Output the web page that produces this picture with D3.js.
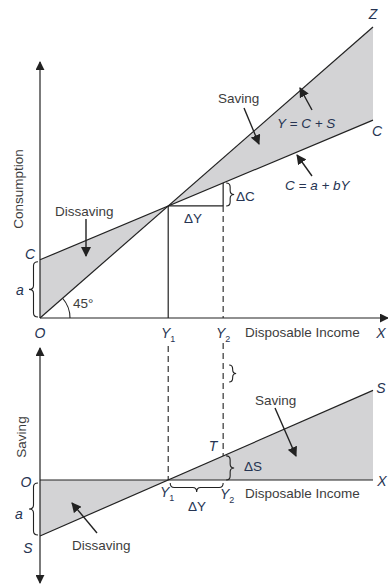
<!DOCTYPE html>
<html>
<head>
<meta charset="utf-8">
<script src="https://cdn.jsdelivr.net/npm/d3@7"></script>
<style>
body{margin:0;background:#fff;}
text{font-family:"Liberation Sans",Arial,sans-serif;}
.word{fill:#3d3d3d;font-size:13.5px;}
.sym{fill:#263452;font-size:14px;font-style:italic;}
</style>
</head>
<body>
<div id="chart"></div>
<script>
(function(){

const width = 388;
const height = 585;

// income levels (disposable income, arbitrary units)
const incomeEnds = [0, 100];
const Y1 = 38.5;
const Y2 = 55;

// consumption function C = a + bY, a = 20, b = 0.48
const line45 = [0, 100];          // Y = C + S at incomeEnds
const consLine = [20, 68];        // C at incomeEnds
const consAtY1 = 38.5;
const consAtY2 = 46.4;

// saving function S = -a + (1-b)Y
const saveLine = [-20, 32];       // S at incomeEnds
const saveAtY2 = 8.6;

const svg = d3.select("#chart")
.append("svg")
.attr("width",width)
.attr("height",height);

const x = d3.scaleLinear().domain([0,100]).range([40,373]);
const yC = d3.scaleLinear().domain([0,100]).range([318,27]);
const yS = d3.scaleLinear().domain([-35,50]).range([578,340]);

const ink = "#222";

// arrow heads
const defs = svg.append("defs");
defs.append("marker")
.attr("id","head")
.attr("viewBox","0 0 10 10")
.attr("refX",9).attr("refY",5)
.attr("markerWidth",9).attr("markerHeight",9)
.attr("markerUnits","userSpaceOnUse")
.attr("orient","auto-start-reverse")
.append("path").attr("d","M0,0 L10,5 L0,10 Z").attr("fill",ink);

defs.append("marker")
.attr("id","ptr")
.attr("viewBox","0 0 10 10")
.attr("refX",9).attr("refY",5)
.attr("markerWidth",10).attr("markerHeight",10)
.attr("markerUnits","userSpaceOnUse")
.attr("orient","auto")
.append("path").attr("d","M0,0 L10,5 L0,10 Z").attr("fill",ink);

// -------------------
// SHADED AREAS
// -------------------

const topPts = [
{y:0, hi:line45[0], lo:consLine[0]},
{y:Y1, hi:consAtY1, lo:consAtY1},
{y:100, hi:line45[1], lo:consLine[1]}
];
svg.append("path")
.datum(topPts)
.attr("d", d3.area().x(d=>x(d.y)).y0(d=>yC(d.hi)).y1(d=>yC(d.lo)))
.attr("fill","#d3d3d5");

const botPts = [
{y:0, s:saveLine[0]},
{y:Y1, s:0},
{y:100, s:saveLine[1]}
];
svg.append("path")
.datum(botPts)
.attr("d", d3.area().x(d=>x(d.y)).y0(yS(0)).y1(d=>yS(d.s)))
.attr("fill","#d3d3d5");

// -------------------
// AXES
// -------------------

const seg = (x1,y1,x2,y2) => svg.append("line")
.attr("x1",x1).attr("y1",y1).attr("x2",x2).attr("y2",y2)
.attr("stroke",ink).attr("stroke-width",1.2);

seg(x(0),yC(0),x(0),62).attr("marker-end","url(#head)");
seg(x(0),yC(0),388,yC(0)).attr("marker-end","url(#head)");
seg(x(0),348,x(0),583)
.attr("marker-start","url(#head)").attr("marker-end","url(#head)");
seg(x(0),yS(0),x(100),yS(0));

// -------------------
// FUNCTION LINES
// -------------------

seg(x(incomeEnds[0]),yC(line45[0]),x(incomeEnds[1]),yC(line45[1]));
seg(x(incomeEnds[0]),yC(consLine[0]),x(incomeEnds[1]),yC(consLine[1]));
seg(x(incomeEnds[0]),yS(saveLine[0]),x(incomeEnds[1]),yS(saveLine[1]));

// Y1 / Y2 guides
seg(x(Y1),yC(consAtY1),x(Y1),yC(0));
seg(x(Y1),yC(consAtY1),x(Y2),yC(consAtY1));
seg(x(Y2),yC(consAtY2),x(Y2),yC(consAtY1));

const dash = (x1,y1,x2,y2) => seg(x1,y1,x2,y2)
.attr("stroke-dasharray","6,4").attr("stroke-width",1.1);
dash(x(Y2),yC(consAtY1),x(Y2),yC(0));
dash(x(Y1),346,x(Y1),yS(0));
dash(x(Y2),343,x(Y2),yS(saveAtY2));

// 45 degree arc
const ang = Math.atan2(yC(0)-yC(30), x(30)-x(0));
const r = 30;
svg.append("path")
.attr("d",`M${x(0)+r},${yC(0)} A${r},${r} 0 0 0 ${x(0)+r*Math.cos(ang)},${yC(0)-r*Math.sin(ang)}`)
.attr("fill","none").attr("stroke",ink).attr("stroke-width",1.1);

// -------------------
// BRACES
// -------------------

function vBrace(bx,y1,y2,w){
const h = w/2, ym=(y1+y2)/2, k=Math.min(4,(y2-y1)/4);
return `M${bx},${y1} Q${bx+h},${y1} ${bx+h},${y1+k} L${bx+h},${ym-k} Q${bx+h},${ym} ${bx+w},${ym} Q${bx+h},${ym} ${bx+h},${ym+k} L${bx+h},${y2-k} Q${bx+h},${y2} ${bx},${y2}`;
}
function hBrace(x1,x2,by,w){
const h = w/2, xm=(x1+x2)/2, k=Math.min(4,(x2-x1)/4);
return `M${x1},${by} Q${x1},${by+h} ${x1+k},${by+h} L${xm-k},${by+h} Q${xm},${by+h} ${xm},${by+w} Q${xm},${by+h} ${xm+k},${by+h} L${x2-k},${by+h} Q${x2},${by+h} ${x2},${by}`;
}
const brace = d => svg.append("path").attr("d",d)
.attr("fill","none").attr("stroke",ink).attr("stroke-width",1.1);

brace(vBrace(38,yC(consLine[0])+2,yC(0)-1,-9));
brace(vBrace(38,yS(0)+3,yS(saveLine[0])-1,-9));
brace(vBrace(x(Y2)+3,yC(consAtY2),yC(consAtY1),8));
brace(vBrace(x(Y2)+6,365,382,7));
brace(vBrace(x(Y2)+3,yS(saveAtY2),yS(0),8));
brace(hBrace(x(Y1)+2,x(Y2),yS(0)+3,9));

// -------------------
// POINTER ARROWS
// -------------------

const pointer = (x1,y1,x2,y2) => seg(x1,y1,x2,y2)
.attr("stroke-width",1.4).attr("marker-end","url(#ptr)");
pointer(86,219,86,256);
pointer(244,108,259,144);
pointer(312,110,300,88);
pointer(312,176,297,155);
pointer(97,533,72,503);
pointer(275,408,296,456);

// -------------------
// LABELS
// -------------------

const word = (tx,ty,s,anchor) => svg.append("text")
.attr("class","word").attr("x",tx).attr("y",ty)
.attr("text-anchor",anchor||"start").text(s);
const sym = (tx,ty,s,anchor) => svg.append("text")
.attr("class","sym").attr("x",tx).attr("y",ty)
.attr("text-anchor",anchor||"middle").text(s);
const subSym = (tx,ty,base,sub) => {
const t = svg.append("text").attr("class","sym").attr("x",tx).attr("y",ty)
.attr("text-anchor","middle");
t.append("tspan").text(base);
t.append("tspan").attr("dy",4).attr("font-size","9px").attr("font-style","normal").text(sub);
};

// axis titles
svg.append("text").attr("class","word")
.attr("transform","translate(23,189) rotate(-90)")
.attr("text-anchor","middle").text("Consumption");
svg.append("text").attr("class","word")
.attr("transform","translate(26,437) rotate(-90)")
.attr("text-anchor","middle").text("Saving");

// top panel
sym(x(100),19,"Z");
sym(x(100)+4,136,"C");
sym(30,259,"C");
sym(20,295,"a");
sym(40,338,"O");
subSym(x(Y1),338,"Y","1");
subSym(x(Y2),338,"Y","2");
word(245,337,"Disposable Income");
sym(381,338,"X");
word(73,308,"45°");
word(55,216,"Dissaving");
word(218,103,"Saving");
word(277,128,"Y = C + S").attr("font-style","italic").style("fill","#263452");
word(285,190,"C = a + bY").attr("font-style","italic").style("fill","#263452");
word(236,201,"ΔC").style("fill","#263452");
word(184,223,"ΔY").style("fill","#263452");

// bottom panel
sym(26,487,"O");
sym(19,519,"a");
sym(28,553,"S");
sym(381,393,"S");
sym(382,486,"X");
sym(x(Y2)-10,451,"T");
subSym(x(Y1)-1,497,"Y","1");
subSym(x(Y2)+4,499,"Y","2");
word(245,498,"Disposable Income");
word(244,471,"ΔS").style("fill","#263452");
word(188,511,"ΔY").style("fill","#263452");
word(255,405,"Saving");
word(72,550,"Dissaving");

})();
</script>
</body>
</html>
